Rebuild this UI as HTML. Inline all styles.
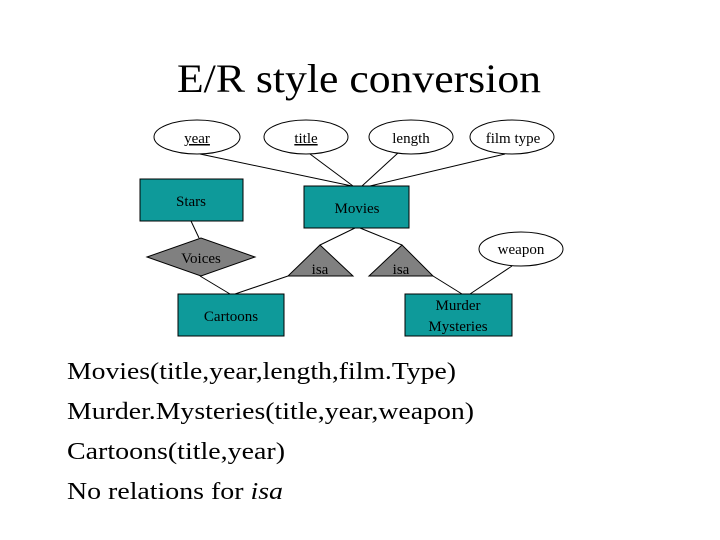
<!DOCTYPE html>
<html><head><meta charset="utf-8"><style>
html,body{margin:0;padding:0;background:#fff;}
svg{display:block;}
text{font-family:"Liberation Serif",serif;fill:#000;}
.s{font-size:15px;fill:#1a1a1a;}
</style></head><body>
<svg width="720" height="540" viewBox="0 0 720 540" xmlns="http://www.w3.org/2000/svg">
<text x="177" y="92" font-size="40" textLength="364" lengthAdjust="spacingAndGlyphs">E/R style conversion</text>
<g stroke="#000" stroke-width="1" fill="none">
<line x1="200" y1="154" x2="352" y2="186"/>
<line x1="310" y1="154" x2="353" y2="186"/>
<line x1="398" y1="153" x2="362" y2="186"/>
<line x1="505" y1="154" x2="370" y2="186"/>
<line x1="355" y1="228" x2="320" y2="245"/>
<line x1="360" y1="228" x2="402" y2="245"/>
<line x1="191" y1="221" x2="199" y2="238"/>
<line x1="200" y1="276" x2="230" y2="294"/>
<line x1="288" y1="276" x2="235" y2="294"/>
<line x1="433" y1="276" x2="462" y2="294"/>
<line x1="512" y1="266" x2="470" y2="294"/>
</g>
<g fill="#fff" stroke="#000" stroke-width="1">
<ellipse cx="197" cy="137" rx="43" ry="17"/>
<ellipse cx="306" cy="137" rx="42" ry="17"/>
<ellipse cx="411" cy="137" rx="42" ry="17"/>
<ellipse cx="512" cy="137" rx="42" ry="17"/>
<ellipse cx="521" cy="249" rx="42" ry="17"/>
</g>
<g fill="#0e9a9a" stroke="#000" stroke-width="1">
<rect x="140" y="179" width="103" height="42"/>
<rect x="304" y="186" width="105" height="42"/>
<rect x="178" y="294" width="106" height="42"/>
<rect x="405" y="294" width="107" height="42"/>
</g>
<g fill="#808080" stroke="#000" stroke-width="1">
<polygon points="147,257 201,238 255,257 201,276"/>
<polygon points="320,245 353,276 288,276"/>
<polygon points="402,245 433,276 369,276"/>
</g>
<g class="s" text-anchor="middle">
<text x="197" y="143" text-decoration="underline">year</text>
<text x="306" y="143" text-decoration="underline">title</text>
<text x="411" y="143">length</text>
<text x="513" y="143">film type</text>
<text x="521" y="254">weapon</text>
<text x="191" y="206">Stars</text>
<text x="357" y="213">Movies</text>
<text x="201" y="263">Voices</text>
<text x="320" y="274">isa</text>
<text x="401" y="274">isa</text>
<text x="231" y="321">Cartoons</text>
<text x="458" y="310">Murder</text>
<text x="458" y="331">Mysteries</text>
</g>
<g font-size="24">
<text x="67" y="379" textLength="389" lengthAdjust="spacingAndGlyphs">Movies(title,year,length,film.Type)</text>
<text x="67" y="419" textLength="407" lengthAdjust="spacingAndGlyphs">Murder.Mysteries(title,year,weapon)</text>
<text x="67" y="459" textLength="218" lengthAdjust="spacingAndGlyphs">Cartoons(title,year)</text>
<text x="67" y="499" textLength="216" lengthAdjust="spacingAndGlyphs">No relations for <tspan font-style="italic">isa</tspan></text>
</g>
</svg>
</body></html>
